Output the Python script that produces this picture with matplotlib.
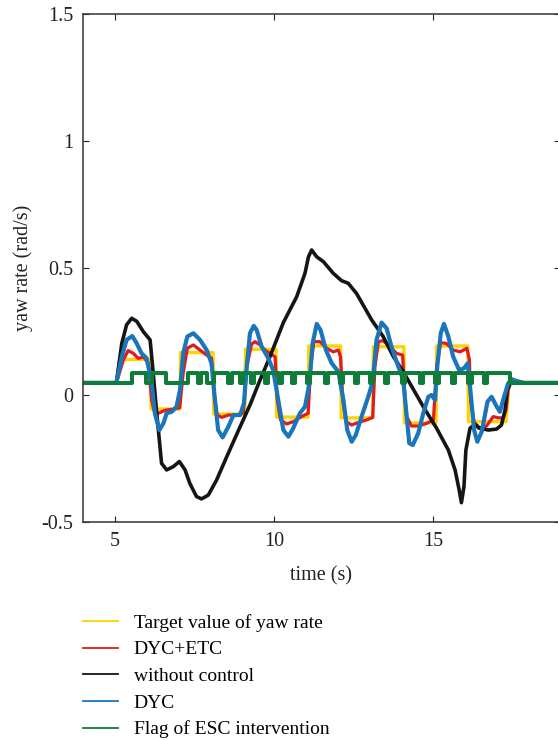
import matplotlib
matplotlib.use("Agg")
import matplotlib.pyplot as plt
from matplotlib.lines import Line2D

# --- data ---
target_t = [4, 5.05, 5.15, 6.12, 6.14, 7.05, 7.07, 8.09, 8.11, 9.09, 9.11, 10.07, 10.09,
            11.08, 11.10, 12.10, 12.12, 13.11, 13.13, 14.09, 14.11, 15.10, 15.12,
            16.10, 16.12, 17.30, 17.40, 19]
target_v = [0.048, 0.048, 0.14, 0.14, -0.055, -0.055, 0.167, 0.167, -0.075, -0.075,
            0.18, 0.18, -0.087, -0.087, 0.193, 0.193, -0.09, -0.09, 0.19, 0.19,
            -0.11, -0.11, 0.193, 0.193, -0.105, -0.105, 0.048, 0.048]

dyc_etc_t = [4, 5.05, 5.27, 5.42, 5.58, 5.74, 5.9, 6.05, 6.16, 6.23, 6.37, 6.58, 6.89, 7.04,
             7.15, 7.28, 7.47, 7.68, 7.89, 8.04, 8.15, 8.22, 8.36, 8.57, 8.83, 9.04,
             9.15, 9.3, 9.41, 9.57, 9.72, 9.88, 10.04, 10.11, 10.21, 10.4, 10.61, 10.87, 11.08,
             11.16, 11.26, 11.45, 11.66, 11.87, 12.03, 12.1, 12.17, 12.27, 12.45, 12.66, 12.92, 13.11,
             13.18, 13.29, 13.44, 13.65, 13.86, 14.05, 14.13, 14.18, 14.33, 14.54, 14.8, 15.02,
             15.12, 15.25, 15.43, 15.64, 15.86, 16.07, 16.15, 16.19, 16.3, 16.43, 16.69, 16.9,
             17.06, 17.22, 17.3, 17.37, 17.48, 17.64, 17.85, 19]
dyc_etc_v = [0.048, 0.048, 0.138, 0.175, 0.164, 0.144, 0.15, 0.125, -0.02, -0.06, -0.072, -0.06, -0.055, -0.05,
             0.085, 0.184, 0.197, 0.177, 0.157, 0.145, -0.02, -0.079, -0.088, -0.079, -0.079, -0.07,
             0.111, 0.2, 0.21, 0.197, 0.177, 0.164, 0.15, -0.02, -0.098, -0.114, -0.105, -0.085, -0.072,
             0.111, 0.21, 0.21, 0.184, 0.17, 0.177, 0.15, -0.02, -0.105, -0.118, -0.108, -0.098, -0.088,
             0.111, 0.21, 0.214, 0.19, 0.164, 0.157, -0.02, -0.085, -0.122, -0.122, -0.112, -0.098,
             0.111, 0.206, 0.203, 0.177, 0.17, 0.184, 0.14, -0.02, -0.108, -0.131, -0.122, -0.085,
             -0.09, -0.09, -0.06, 0.02, 0.06, 0.055, 0.048, 0.048]

no_ctrl_t = [4, 5.05, 5.22, 5.37, 5.53, 5.69, 5.9, 6.11, 6.19, 6.3, 6.4, 6.47, 6.63, 6.84, 7.03,
             7.21, 7.36, 7.57, 7.73, 7.94, 8.2, 8.52, 8.94, 9.25, 9.57, 9.88, 10.3, 10.72,
             10.98, 11.09, 11.19, 11.35, 11.56, 11.87, 12.13, 12.34, 12.6, 12.87, 13.08,
             13.44, 13.76, 14.07, 14.28, 14.7, 15.12, 15.49, 15.7, 15.83, 15.9, 15.98, 16.04,
             16.17, 16.33, 16.48, 16.75, 17.01, 17.16, 17.27, 17.34, 17.48, 17.7, 17.9, 19]
no_ctrl_v = [0.048, 0.048, 0.203, 0.276, 0.302, 0.29, 0.249, 0.217, 0.111, -0.046, -0.177, -0.269, -0.295,
             -0.282, -0.262, -0.295, -0.348, -0.4, -0.409, -0.394, -0.335, -0.243, -0.125, -0.04,
             0.06, 0.151, 0.285, 0.387, 0.479, 0.544, 0.571, 0.544, 0.525, 0.479, 0.45, 0.44,
             0.4, 0.341, 0.295, 0.23, 0.151, 0.092, 0.046, -0.046, -0.131, -0.217, -0.295,
             -0.374, -0.424, -0.361, -0.217, -0.131, -0.114, -0.131, -0.138, -0.134, -0.118,
             -0.06, 0.02, 0.06, 0.05, 0.048, 0.048]

dyc_t = [4, 5.05, 5.22, 5.37, 5.55, 5.69, 5.84, 6.0, 6.16, 6.26, 6.4, 6.53, 6.63, 6.79, 6.94,
         7.05, 7.15, 7.28, 7.47, 7.68, 7.89, 8.04, 8.15, 8.25, 8.39, 8.57, 8.73, 8.94, 9.06,
         9.15, 9.25, 9.37, 9.46, 9.62, 9.83, 9.98, 10.14, 10.3, 10.46, 10.61, 10.82, 10.98,
         11.12, 11.22, 11.35, 11.47, 11.64, 11.82, 12.03, 12.19, 12.31, 12.45, 12.58, 12.76,
         12.97, 13.11, 13.23, 13.39, 13.55, 13.7, 13.92, 14.07, 14.18, 14.26, 14.37, 14.54,
         14.7, 14.86, 14.96, 15.07, 15.14, 15.25, 15.35, 15.49, 15.64, 15.83, 15.98, 16.1,
         16.19, 16.3, 16.4, 16.54, 16.72, 16.85, 17.01, 17.11, 17.24, 17.37, 17.48, 17.64,
         17.85, 19]
dyc_v = [0.048, 0.048, 0.151, 0.217, 0.232, 0.203, 0.164, 0.145, 0.046, -0.072, -0.138, -0.111,
         -0.072, -0.066, -0.046, 0.02, 0.164, 0.23, 0.243, 0.217, 0.177, 0.125, -0.02, -0.138,
         -0.167, -0.125, -0.079, -0.079, -0.033, 0.111, 0.243, 0.272, 0.256, 0.19, 0.144, 0.098,
         -0.02, -0.138, -0.164, -0.131, -0.072, -0.046, 0.046, 0.203, 0.28, 0.256, 0.177, 0.125,
         0.092, -0.02, -0.138, -0.184, -0.157, -0.085, -0.007, 0.052, 0.217, 0.285, 0.262, 0.19,
         0.111, 0.059, -0.085, -0.19, -0.197, -0.151, -0.072, -0.007, 0.0, -0.02, 0.111, 0.243,
         0.28, 0.23, 0.151, 0.098, 0.105, 0.125, 0.007, -0.138, -0.184, -0.144, -0.026, -0.007,
         -0.046, -0.066, -0.007, 0.046, 0.062, 0.055, 0.048, 0.048]

flag_t = [4, 5.53, 5.99, 6.18, 6.6, 7.3, 7.62, 7.72, 7.9, 8.12, 8.56, 8.7, 8.93, 9.03, 9.28,
          9.38, 9.72, 9.82, 10.15, 10.25, 10.57, 10.67, 11.03, 11.13, 11.6, 11.7, 12.08, 12.18,
          12.55, 12.65, 13.02, 13.12, 13.5, 13.6, 14.02, 14.12, 14.6, 14.7, 15.08, 15.18, 15.6,
          15.7, 16.12, 16.22, 16.62, 16.72, 17.43, 19]
flag_v = [0.048, 0.088, 0.048, 0.088, 0.048, 0.088, 0.048, 0.088, 0.048, 0.088, 0.048, 0.088,
          0.048, 0.088, 0.048, 0.088, 0.048, 0.088, 0.048, 0.088, 0.048, 0.088, 0.048, 0.088,
          0.048, 0.088, 0.048, 0.088, 0.048, 0.088, 0.048, 0.088, 0.048, 0.088, 0.048, 0.088,
          0.048, 0.088, 0.048, 0.088, 0.048, 0.088, 0.048, 0.088, 0.048, 0.088, 0.048, 0.048]

labels = ["Target value of yaw rate", "DYC+ETC", "without control", "DYC",
          "Flag of ESC intervention"]
colors = ["#FFD200", "#E3191E", "#151515", "#1B75BB", "#0E7D3A"]

x_ticks = [5, 10, 15]
y_ticks = [-0.5, 0, 0.5, 1, 1.5]
y_ticklabels = ["-0.5", "0", "0.5", "1", "1.5"]

# --- figure ---
plt.rcParams["font.family"] = ["Liberation Serif", "DejaVu Serif"]
fs = 14.5
fig = plt.figure(figsize=(5.58, 7.4), dpi=100)
ax = fig.add_axes([83 / 558, 1 - 522 / 740, 477 / 558, 508 / 740])

ax.plot(target_t, target_v, color=colors[0], lw=2.4)
ax.plot(dyc_etc_t, dyc_etc_v, color=colors[1], lw=2.3)
ax.plot(no_ctrl_t, no_ctrl_v, color=colors[2], lw=2.6)
ax.plot(dyc_t, dyc_v, color=colors[3], lw=3.0)
ax.step(flag_t, flag_v, where="post", color=colors[4], lw=2.9)

ax.set_xlim(4, 19)
ax.set_ylim(-0.5, 1.5)
ax.set_xticks(x_ticks)
ax.set_yticks(y_ticks)
ax.set_yticklabels(y_ticklabels)
ax.tick_params(direction="in", length=4.5, width=0.8, top=True, right=True,
               labelsize=fs, colors="#222222", pad=7)
for s in ax.spines.values():
    s.set_linewidth(1.1)
    s.set_color("#333333")

ax.set_xlabel("time (s)", fontsize=fs, labelpad=11, color="#222222")
ax.set_ylabel("yaw rate (rad/s)", fontsize=fs, labelpad=6, color="#222222")

handles = [Line2D([], [], color=c, lw=1.3) for c in colors]
fig.legend(handles, labels, loc="upper left", bbox_to_anchor=(83 / 558, 1 - 614 / 740),
           frameon=False, fontsize=14, handlelength=1.8, handletextpad=0.8,
           labelspacing=0.46, borderpad=0, borderaxespad=0)

fig.savefig("out.png", dpi=100)
